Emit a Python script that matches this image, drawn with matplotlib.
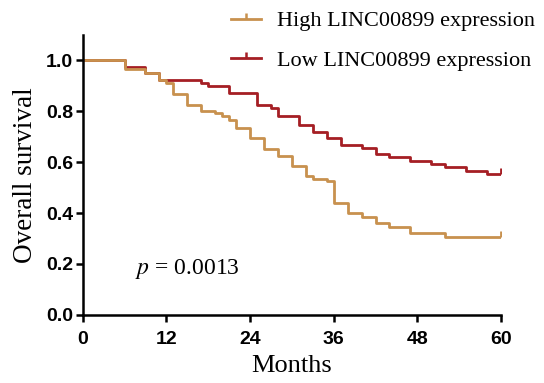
import matplotlib
matplotlib.use('Agg')
import matplotlib.pyplot as plt

# Kaplan-Meier steps (months, survival)
high_times = [0, 6, 9, 11, 12, 13, 15, 17, 19, 20, 21, 22, 24, 26, 28, 30,
              32, 33, 35, 36, 38, 40, 42, 44, 47, 52, 60]
high_surv = [1.0, 0.964, 0.949, 0.922, 0.912, 0.866, 0.824, 0.800, 0.791,
             0.780, 0.765, 0.734, 0.695, 0.652, 0.625, 0.586, 0.546, 0.533,
             0.524, 0.439, 0.402, 0.386, 0.362, 0.347, 0.320, 0.307, 0.307]

low_times = [0, 6, 9, 11, 17, 18, 21, 25, 27, 28, 31, 33, 35, 37, 40, 42,
             44, 47, 50, 52, 55, 58, 60]
low_surv = [1.0, 0.975, 0.951, 0.922, 0.912, 0.899, 0.872, 0.824, 0.813,
            0.783, 0.745, 0.719, 0.693, 0.669, 0.656, 0.633, 0.619, 0.606,
            0.593, 0.580, 0.567, 0.554, 0.554]

high_censor = [60]
low_censor = [60]

labels = ['High LINC00899 expression', 'Low LINC00899 expression']
x_ticks = [0, 12, 24, 36, 48, 60]
y_ticks = [0.0, 0.2, 0.4, 0.6, 0.8, 1.0]

c_high = '#C8914E'
c_low = '#A51E24'

plt.rcParams['mathtext.fontset'] = 'stix'

fig = plt.figure(figsize=(5.44, 3.83), dpi=100)
ax = fig.add_axes([0.152, 0.178, 0.769, 0.731])

tick_up = [(0, 0), (0, 1)]


def surv_at(times, surv, t):
    val = surv[0]
    for ti, si in zip(times, surv):
        if ti <= t:
            val = si
    return val


ax.step(low_times, low_surv, where='post', color=c_low, lw=2.0)
ax.plot(low_censor, [surv_at(low_times, low_surv, t) for t in low_censor],
        ls='none', marker=tick_up, ms=9, mew=2.0, color=c_low)
ax.step(high_times, high_surv, where='post', color=c_high, lw=2.0)
ax.plot(high_censor, [surv_at(high_times, high_surv, t) for t in high_censor],
        ls='none', marker=tick_up, ms=9, mew=2.0, color=c_high)

h1, = ax.plot([], [], color=c_high, lw=2.0, marker=tick_up, ms=9, mew=1.8)
h2, = ax.plot([], [], color=c_low, lw=2.0, marker=tick_up, ms=9, mew=1.8)

ax.set_xlim(0, 60)
ax.set_ylim(0, 1.1)
ax.set_xticks(x_ticks)
ax.set_yticks(y_ticks)
ax.set_xticklabels([str(t) for t in x_ticks], fontsize=14,
                   fontweight='bold', family='Liberation Sans')
ax.set_yticklabels(['%.1f' % t for t in y_ticks], fontsize=14,
                   fontweight='bold', family='Liberation Sans')
ax.spines['top'].set_visible(False)
ax.spines['right'].set_visible(False)
ax.spines['left'].set_linewidth(1.8)
ax.spines['bottom'].set_linewidth(1.8)
ax.tick_params(width=1.8, length=5)
ax.tick_params(axis='x', pad=7)
ax.tick_params(axis='y', pad=2)

ax.set_xlabel('Months', fontsize=19, family='Liberation Serif', labelpad=5)
ax.set_ylabel('Overall survival', fontsize=19.5, family='Liberation Serif',
              labelpad=6)

ax.text(7.5, 0.18, r'$\it{p}$ = 0.0013', fontsize=17,
        family='Liberation Serif', va='center')

ax.legend([h1, h2], labels, loc='upper left', bbox_to_anchor=(0.424, 0.972),
          bbox_transform=fig.transFigure, frameon=False,
          prop={'family': 'Liberation Serif', 'size': 16},
          handlelength=1.35, handletextpad=0.75, labelspacing=0.85,
          borderaxespad=0, borderpad=0)

fig.savefig('out.png', dpi=100)
